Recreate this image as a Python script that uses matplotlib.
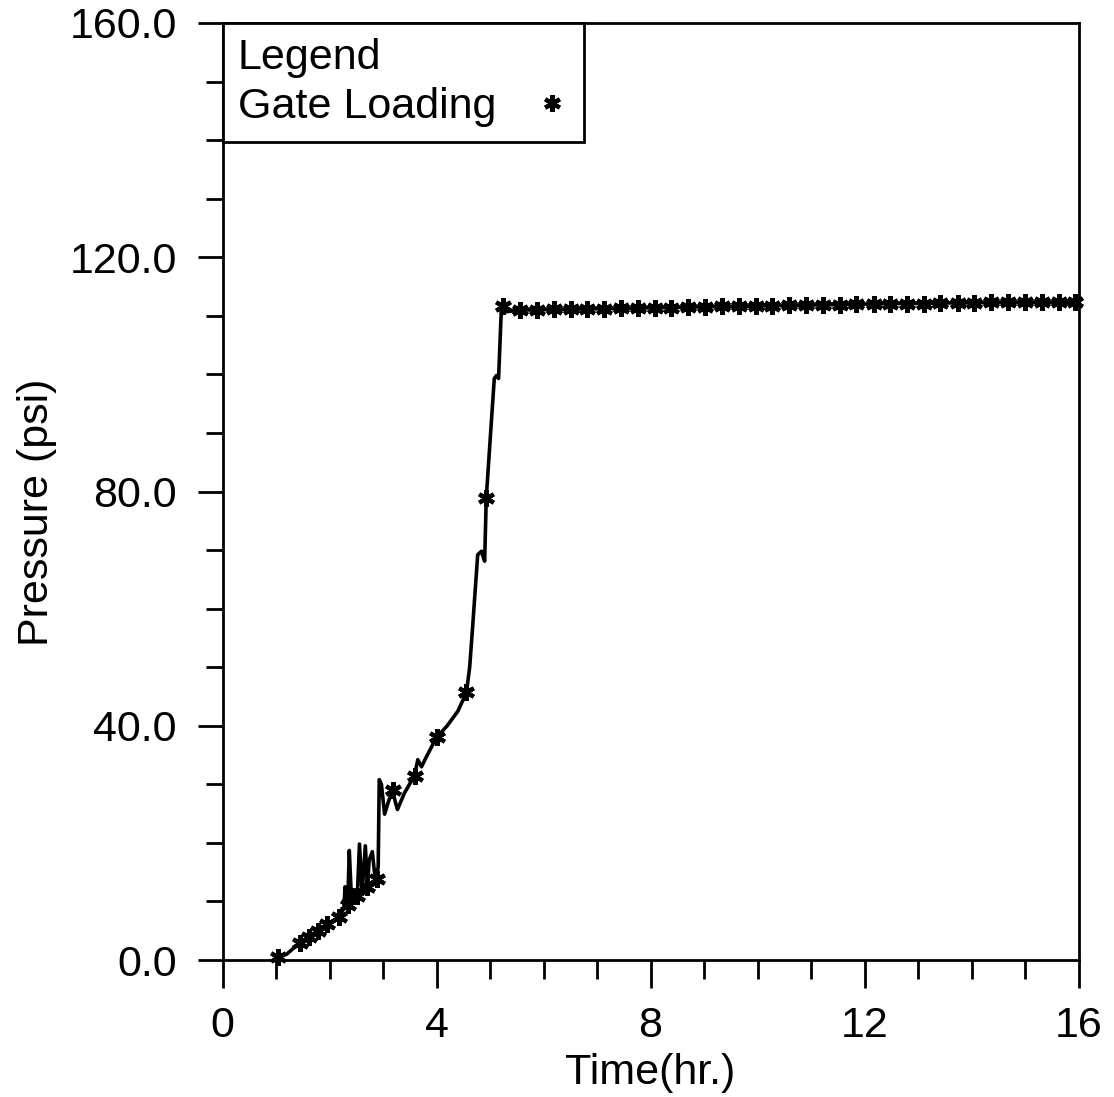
import matplotlib
matplotlib.use("Agg")
import matplotlib.pyplot as plt
from matplotlib.lines import Line2D
from matplotlib.ticker import MultipleLocator, FormatStrFormatter

plt.rcParams["font.family"] = ["Liberation Sans", "DejaVu Sans"]

# Gate loading record: full trace
line_time = [1.00, 1.20, 1.44, 1.61, 1.79, 1.96, 2.17, 2.27, 2.29, 2.32, 2.34,
             2.37, 2.41, 2.45, 2.52, 2.56, 2.61, 2.67, 2.71, 2.74, 2.80, 2.84,
             2.88, 2.91, 2.93, 2.97, 3.03, 3.10, 3.18, 3.23, 3.27, 3.40, 3.59,
             3.65, 3.72, 3.80, 4.00, 4.20, 4.40, 4.56, 4.62, 4.67, 4.77, 4.84,
             4.90, 4.93, 5.08, 5.12, 5.16, 5.21, 5.25, 5.30, 5.56, 5.88, 6.19,
             6.51, 6.82, 7.14, 7.45, 7.77, 8.08, 8.39, 8.71, 9.02, 9.34, 9.65,
             9.97, 10.28, 10.59, 10.91, 11.22, 11.54, 11.85, 12.17, 12.48, 12.80,
             13.11, 13.42, 13.74, 14.05, 14.37, 14.68, 15.00, 15.31, 15.63, 15.94,
             16.00]
line_pressure = [0.3, 1.0, 2.9, 4.0, 5.0, 6.1, 7.3, 8.8, 12.5, 9.5, 9.4,
                 18.7, 10.5, 12.0, 11.0, 19.8, 11.5, 19.5, 12.4, 17.0, 18.5, 15.0,
                 13.8, 16.0, 30.8, 30.0, 24.9, 27.0, 29.0, 27.0, 25.7, 28.5, 31.5,
                 34.2, 33.0, 34.5, 38.0, 40.0, 42.5, 45.7, 50.0, 56.2, 69.2, 69.8,
                 68.1, 78.9, 99.3, 99.8, 99.3, 110.7, 111.6, 110.7, 111.0, 111.0, 111.1,
                 111.1, 111.2, 111.2, 111.3, 111.3, 111.4, 111.4, 111.5, 111.5, 111.6, 111.6,
                 111.7, 111.7, 111.8, 111.8, 111.9, 111.9, 112.0, 112.0, 112.1, 112.1,
                 112.1, 112.2, 112.2, 112.2, 112.3, 112.3, 112.3, 112.3, 112.3, 112.3,
                 112.3]

# Sampled readings shown with symbols
marker_time = [1.03, 1.44, 1.61, 1.79, 1.96, 2.17, 2.34, 2.52, 2.71, 2.88,
               3.18, 3.59, 4.00, 4.56, 4.93, 5.25, 5.56, 5.88, 6.19, 6.51,
               6.82, 7.14, 7.45, 7.77, 8.08, 8.39, 8.71, 9.02, 9.34, 9.65,
               9.97, 10.28, 10.59, 10.91, 11.22, 11.54, 11.85, 12.17, 12.48, 12.80,
               13.11, 13.42, 13.74, 14.05, 14.37, 14.68, 15.00, 15.31, 15.63, 15.94]
marker_pressure = [0.5, 2.9, 4.0, 5.0, 6.1, 7.3, 9.4, 11.0, 12.4, 13.8,
                   29.0, 31.5, 38.0, 45.7, 78.9, 111.6, 111.0, 111.0, 111.1, 111.1,
                   111.2, 111.2, 111.3, 111.3, 111.4, 111.4, 111.5, 111.5, 111.6, 111.6,
                   111.7, 111.7, 111.8, 111.8, 111.9, 111.9, 112.0, 112.0, 112.1, 112.1,
                   112.1, 112.2, 112.2, 112.2, 112.3, 112.3, 112.3, 112.3, 112.3, 112.3]

x_ticks = [0, 4, 8, 12, 16]
y_ticks = [0.0, 40.0, 80.0, 120.0, 160.0]

ASTERISK = (6, 2, 0)
FS = 31

fig = plt.figure(figsize=(11.14, 10.97), dpi=100)
ax = fig.add_axes([222.5 / 1114, 1 - 960 / 1097, (1078.5 - 222.5) / 1114, (960 - 23) / 1097])

ax.plot(line_time, line_pressure, color="black", lw=2.6, solid_joinstyle="round")
ax.plot(marker_time, marker_pressure, linestyle="none", marker=ASTERISK,
        ms=12, mew=3.0, color="black", clip_on=False)

ax.set_xlim(0, 16)
ax.set_ylim(0, 160)
ax.set_xticks(x_ticks)
ax.set_yticks(y_ticks)
ax.xaxis.set_minor_locator(MultipleLocator(1))
ax.yaxis.set_minor_locator(MultipleLocator(10))
ax.yaxis.set_major_formatter(FormatStrFormatter("%.1f"))

for s in ax.spines.values():
    s.set_linewidth(2.0)

ax.tick_params(axis="x", which="major", direction="out", length=20, width=2.0,
               pad=13, labelsize=FS)
ax.tick_params(axis="x", which="minor", direction="out", length=13.5, width=2.0)
ax.tick_params(axis="y", which="major", direction="out", length=18, width=2.0,
               pad=15, labelsize=FS)
ax.tick_params(axis="y", which="minor", direction="out", length=12, width=2.0)

ax.set_xlabel("Time(hr.)", fontsize=FS, labelpad=5)
ax.set_ylabel("Pressure (psi)", fontsize=FS)
ax.yaxis.set_label_coords(-0.193, 0.478)

handle = Line2D([], [], linestyle="none", marker=ASTERISK, ms=12, mew=3.0,
                color="black")
leg = ax.legend([handle], ["Gate Loading"], title="Legend", loc="upper left",
                fontsize=FS, title_fontsize=FS, markerfirst=False,
                borderaxespad=0, fancybox=False, framealpha=1,
                edgecolor="black", borderpad=0.35, handlelength=0.8,
                handletextpad=0.9, labelspacing=0.2)
leg._legend_box.align = "left"
leg.get_frame().set_linewidth(2.0)

fig.savefig("out.png", dpi=100, facecolor="white")
